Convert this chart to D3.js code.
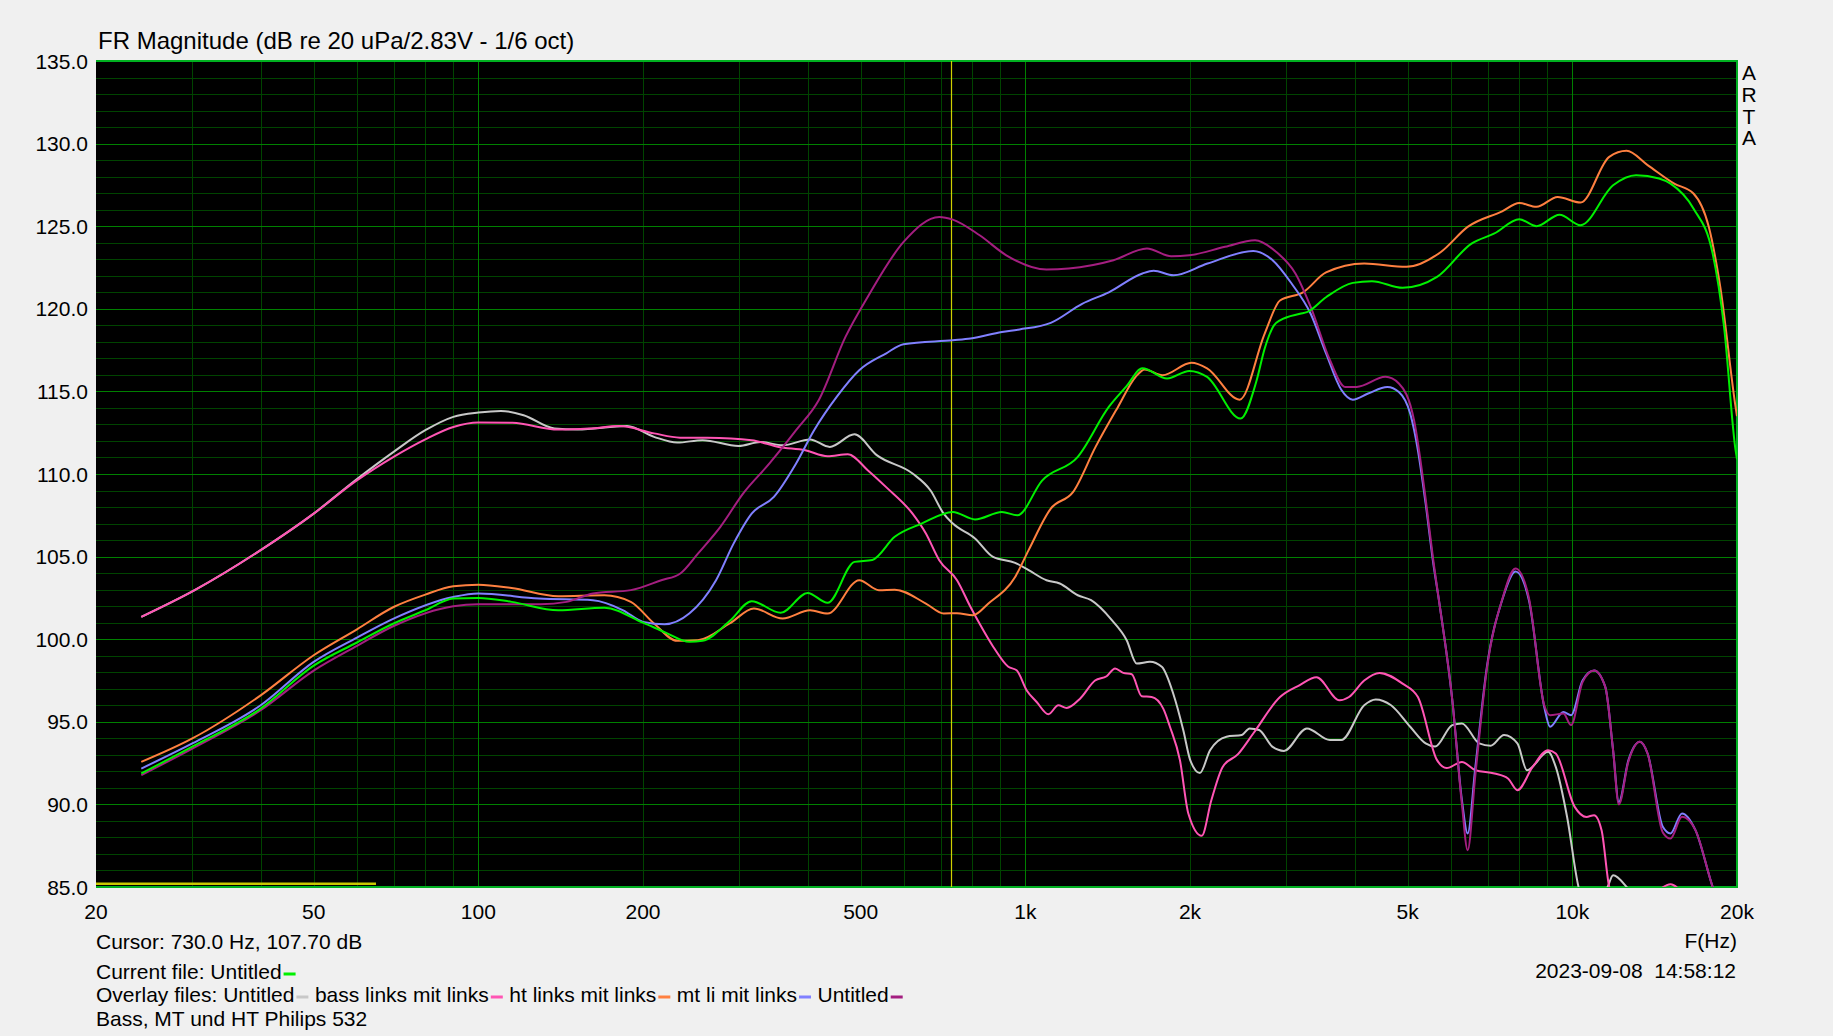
<!DOCTYPE html>
<html>
<head>
<meta charset="utf-8">
<script src="https://cdn.jsdelivr.net/npm/d3@7"></script>
<style>
  html, body { margin: 0; padding: 0; background: #f0f0f0; }
  svg { display: block; }
  text { font-family: "Liberation Sans", Arial, sans-serif; font-size: 21px; fill: #000; white-space: pre; }
  text.title { font-size: 24px; }
</style>
</head>
<body>
<script>
// ---------- data ----------
const titleText = "FR Magnitude (dB re 20 uPa/2.83V - 1/6 oct)";
const yTickValues = [85, 90, 95, 100, 105, 110, 115, 120, 125, 130, 135];
const xTickValues = [20, 50, 100, 200, 500, 1000, 2000, 5000, 10000, 20000];
const xTickLabels = ["20", "50", "100", "200", "500", "1k", "2k", "5k", "10k", "20k"];
const cursorFreq = 730;
const bandRange = [20, 65];
const bandLevel = 85.2;

// [frequency Hz, dB]
const currentUntitled = [
  [24.2,91.87],[30,93.5],[40,95.8],[50,98.4],[60,99.8],[70,100.95],[80,101.75],[90,102.46],[100,102.5],
  [115,102.26],[140,101.75],[170,101.9],[200,101.0],[220,100.4],[243,99.84],[257,99.9],[288,101.1],
  [316,102.3],[357,101.6],[400,102.8],[435,102.2],[487,104.68],[525,104.8],[577,106.2],[646,107.0],
  [737,107.7],[809,107.25],[906,107.7],[967,107.5],[1073,109.6],[1247,111.04],[1421,114.06],[1530,115.3],
  [1637,116.4],[1816,115.78],[1994,116.24],[2149,115.88],[2475,113.36],[2644,115.6],[2739,117.6],
  [2848,119.0],[2921,119.3],[3178,119.7],[3271,119.8],[3546,120.7],[3969,121.57],[4302,121.67],
  [4894,121.27],[5658,121.93],[6541,123.95],[7205,124.56],[7998,125.42],[8601,125.0],[9476,125.7],
  [10350,125.06],[11871,127.48],[13077,128.09],[14405,127.89],[15118,127.58],[16650,126.07],
  [18052,123.35],[18940,118.9],[19880,111.44],[20000,110.9]
];
const overlayUntitledGray = [
  [24.2,101.35],[30.3,102.97],[40,105.39],[50,107.6],[59.6,109.62],[70,111.34],[80,112.65],[90,113.46],
  [100,113.72],[110,113.82],[121,113.56],[137.8,112.75],[151.8,112.69],[187,112.9],[209.5,112.25],
  [231,111.9],[257,112.05],[299,111.7],[328,111.94],[360,111.74],[404,112.09],[439,111.64],[487,112.4],
  [535,111.14],[622,110.03],[671,109.0],[709,107.6],[737,107.0],[809,106.1],[873,104.98],[958,104.62],
  [1014,104.18],[1093,103.57],[1156,103.37],[1247,102.66],[1319,102.36],[1438,101.17],[1532,99.94],
  [1598,98.53],[1690,98.63],[1776,98.33],[1864,96.7],[1944,94.5],[2002,92.68],[2085,91.9],[2176,93.28],
  [2332,94.1],[2488,94.2],[2570,94.6],[2675,94.5],[2832,93.48],[2971,93.24],[3271,94.6],[3604,93.9],
  [3781,93.9],[4164,96.0],[4371,96.35],[4662,96.0],[5053,94.7],[5393,93.69],[5612,93.5],[6034,94.8],
  [6283,94.9],[6757,93.69],[7088,93.55],[7502,94.2],[7935,93.69],[8262,92.07],[9029,93.18],[9326,92.27],
  [9782,89.24],[10265,85.0],[10800,83.5],[11600,85.0],[11871,85.71],[12566,85.0],[13200,84.0]
];
const bassLinks = [
  [24.2,101.35],[30.3,102.97],[40,105.39],[50,107.6],[59.6,109.55],[70,111.04],[80,112.1],[90,112.85],
  [100,113.12],[115.4,113.1],[140,112.69],[159.3,112.75],[181.3,112.9],[209.5,112.46],[233.7,112.2],
  [262,112.19],[316,112.05],[354,111.64],[396,111.44],[435,111.08],[473.7,111.2],[515,110.23],[556,109.22],
  [622,107.6],[658,106.4],[696,104.78],[750,103.57],[794,101.95],[826,100.9],[874,99.53],[931,98.33],
  [964,98.12],[1006,96.9],[1049,96.2],[1102,95.46],[1149,96.0],[1190,95.84],[1259,96.4],[1341,97.5],
  [1408,97.76],[1459,98.23],[1510,97.96],[1565,97.88],[1632,96.55],[1702,96.5],[1787,95.8],[1838,94.7],
  [1917,92.68],[1986,89.45],[2101,88.1],[2188,90.25],[2295,92.27],[2448,93.04],[2610,94.29],[2921,96.5],
  [3169,97.21],[3406,97.7],[3752,96.3],[3906,96.5],[4164,97.5],[4442,97.96],[4894,97.31],[5220,96.5],
  [5658,92.68],[5890,92.2],[6283,92.57],[6649,92.07],[7205,91.87],[7626,91.57],[7935,90.86],[8462,92.27],
  [9029,93.28],[9326,93.08],[10100,89.85],[10610,89.24],[10960,89.35],[11310,88.44],[11680,85.0],
  [12500,83.0],[14000,84.5],[15118,85.17],[16000,84.5]
];
const htLinks = [
  [24.2,92.57],[30,93.99],[40,96.6],[50,99.03],[60,100.6],[70,101.95],[80,102.7],[90,103.2],[100,103.3],
  [115,103.1],[140,102.6],[170,102.66],[190,102.26],[209.5,100.95],[231,99.9],[252,99.94],[288,100.95],
  [319,101.86],[360,101.25],[404,101.75],[435,101.55],[497,103.57],[540,102.97],[577,103.0],[658,102.16],
  [709,101.56],[750,101.57],[802,101.45],[856,102.16],[958,103.77],[1014,105.39],[1113,107.9],
  [1223,108.92],[1344,111.64],[1477,114.06],[1591,115.88],[1653,116.33],[1781,115.98],[2012,116.73],
  [2149,116.4],[2465,114.5],[2739,118.5],[2921,120.5],[3219,121.0],[3546,122.2],[4164,122.74],
  [4973,122.54],[5750,123.44],[6436,124.96],[7442,125.9],[7998,126.4],[8601,126.17],[9400,126.77],
  [10350,126.43],[11680,129.2],[12566,129.56],[13727,128.7],[15358,127.58],[16650,126.98],
  [17760,124.96],[18640,121.33],[19880,114.06],[20000,113.5]
];
const mtLinks = [
  [24.2,92.17],[30,93.69],[40,96.0],[50,98.63],[60,100.1],[70,101.25],[90,102.56],[100,102.77],
  [129,102.46],[162,102.36],[184,101.75],[200,101.05],[219,100.9],[243,101.55],[272,103.57],[293,105.8],
  [316,107.6],[347,108.62],[381,110.64],[411,112.65],[452,114.67],[497,116.28],[556,117.29],[599,117.86],
  [737,118.1],[794,118.2],[906,118.6],[976,118.75],[1113,119.15],[1270,120.3],[1421,121.0],[1637,122.14],
  [1716,122.3],[1866,122.03],[2153,122.74],[2610,123.5],[2832,122.94],[3067,121.53],[3324,119.7],
  [3546,117.3],[3781,115.1],[3969,114.5],[4233,114.87],[4590,115.27],[4818,114.97],[5053,113.66],
  [5220,111.44],[5393,108.2],[5568,104.6],[5703,102.36],[6034,96.3],[6283,90.25],[6436,88.24],
  [6649,92.27],[6979,98.32],[7442,102.36],[7873,104.1],[8330,102.36],[8885,95.9],[9105,94.7],[9630,95.6],
  [9946,95.4],[10440,97.5],[10960,98.1],[11490,97.1],[11871,93.28],[12160,90.15],[12664,92.68],
  [13290,93.79],[13727,93.08],[14635,88.64],[15118,88.24],[15866,89.45],[16790,88.44],[18052,85.0],
  [19000,83.0]
];
const lastUntitled = [
  [24.2,91.77],[30,93.38],[40,95.7],[50,98.1],[60,99.6],[70,100.8],[90,102.0],[100,102.12],[130,102.12],
  [145,102.26],[162,102.77],[190,102.97],[216,103.57],[234,103.98],[252,105.18],[277,106.8],[304.5,108.8],
  [340.6,110.64],[381,112.65],[419,114.47],[469,118.3],[515,120.72],[599,124.05],[696,125.56],[737,125.4],
  [825,124.45],[923,123.24],[1093,122.38],[1200,122.44],[1449,122.94],[1668,123.65],[1849,123.18],
  [1994,123.24],[2318,123.75],[2630,124.15],[2876,123.44],[3117,122.14],[3324,120.12],[3604,116.9],
  [3843,115.27],[4033,115.27],[4553,115.88],[4818,115.48],[5136,113.26],[5393,108.5],[5568,104.8],
  [5703,102.36],[6034,96.3],[6283,90.0],[6436,87.23],[6649,91.8],[6979,98.2],[7442,102.4],[7873,104.28],
  [8330,102.5],[8885,96.0],[9105,95.4],[9630,95.5],[9946,94.8],[10440,97.4],[10960,98.1],[11490,97.1],
  [11871,93.28],[12160,90.0],[12664,92.6],[13290,93.79],[13727,93.08],[14635,88.3],[15118,87.93],
  [15866,89.25],[16790,88.44],[18052,85.0],[19000,83.0]
];

const overlayNames = ["Untitled", "bass links mit links", "ht links mit links", "mt li mit links", "Untitled"];
const overlayColors = ["#c8c8c8", "#ff55b4", "#ff8040", "#8080ff", "#a41e80"];
const overlayData = [overlayUntitledGray, bassLinks, htLinks, mtLinks, lastUntitled];
const currentName = "Untitled";
const currentColor = "#00f000";

// ---------- layout ----------
const W = 1833, H = 1036;
const L = 96, R = 1737, T = 61, B = 887;

const svg = d3.select("body").append("svg").attr("width", W).attr("height", H);
svg.append("rect").attr("width", W).attr("height", H).attr("fill", "#f0f0f0");

const x = d3.scaleLog().domain([20, 20000]).range([L, R]);
const y = d3.scaleLinear().domain([85, 135]).range([B, T]);

svg.append("rect").attr("x", L).attr("y", T).attr("width", R - L).attr("height", B - T).attr("fill", "#000");

// grid
const vMinor = [];
[10, 100, 1000, 10000].forEach(dec => { for (let k = 1; k <= 9; k++) { const f = dec * k; if (f > 20 && f < 20000) vMinor.push(f); } });
const grid = svg.append("g").attr("shape-rendering", "crispEdges");
const hLines = d3.range(86, 135, 1);
grid.selectAll(".hmin").data(hLines.filter(v => v % 5 !== 0)).enter().append("line")
  .attr("x1", L).attr("x2", R).attr("y1", d => Math.round(y(d)) + 0.5).attr("y2", d => Math.round(y(d)) + 0.5)
  .attr("stroke", "#004400").attr("stroke-width", 1);
grid.selectAll(".vmin").data(vMinor.filter(f => ![100, 1000, 10000].includes(f))).enter().append("line")
  .attr("y1", T).attr("y2", B).attr("x1", d => Math.round(x(d)) + 0.5).attr("x2", d => Math.round(x(d)) + 0.5)
  .attr("stroke", "#004400").attr("stroke-width", 1);
grid.selectAll(".hmaj").data(hLines.filter(v => v % 5 === 0)).enter().append("line")
  .attr("x1", L).attr("x2", R).attr("y1", d => Math.round(y(d)) + 0.5).attr("y2", d => Math.round(y(d)) + 0.5)
  .attr("stroke", "#008000").attr("stroke-width", 1);
grid.selectAll(".vmaj").data([100, 1000, 10000]).enter().append("line")
  .attr("y1", T).attr("y2", B).attr("x1", d => Math.round(x(d)) + 0.5).attr("x2", d => Math.round(x(d)) + 0.5)
  .attr("stroke", "#008000").attr("stroke-width", 1);

// border (top, right, bottom)
svg.append("path").attr("d", `M${L},${T} H${R} V${B} H${L}`).attr("fill", "none")
  .attr("stroke", "#00b020").attr("stroke-width", 2);

// clip
svg.append("clipPath").attr("id", "plotclip").append("rect")
  .attr("x", L).attr("y", T).attr("width", R - L).attr("height", B - T);

// cursor line and band
svg.append("line").attr("x1", Math.round(x(cursorFreq)) + 0.5).attr("x2", Math.round(x(cursorFreq)) + 0.5)
  .attr("y1", T).attr("y2", B).attr("stroke", "#d0d000").attr("stroke-width", 1.2);
svg.append("line").attr("x1", x(bandRange[0])).attr("x2", x(bandRange[1]))
  .attr("y1", y(bandLevel)).attr("y2", y(bandLevel)).attr("stroke", "#c8c800").attr("stroke-width", 2.5);

// curves
const line = d3.line().x(d => x(d[0])).y(d => y(d[1])).curve(d3.curveMonotoneX);
const curves = svg.append("g").attr("clip-path", "url(#plotclip)");
overlayData.forEach((data, i) => {
  curves.append("path").datum(data).attr("d", line).attr("fill", "none")
    .attr("stroke", overlayColors[i]).attr("stroke-width", 2).attr("stroke-linejoin", "round");
});
curves.append("path").datum(currentUntitled).attr("d", line).attr("fill", "none")
  .attr("stroke", currentColor).attr("stroke-width", 2).attr("stroke-linejoin", "round");

// title
svg.append("text").attr("class", "title").attr("x", 98).attr("y", 49).text(titleText);

// y ticks
svg.selectAll(".ytl").data(yTickValues).enter().append("text")
  .attr("x", 88).attr("y", d => y(d) + 7.5).attr("text-anchor", "end").text(d => d.toFixed(1));

// x ticks
svg.selectAll(".xtl").data(xTickValues).enter().append("text")
  .attr("x", d => x(d)).attr("y", 919).attr("text-anchor", "middle").text((d, i) => xTickLabels[i]);

// ARTA
["A", "R", "T", "A"].forEach((c, i) => {
  svg.append("text").attr("x", 1749).attr("y", 80 + i * 21.8).attr("text-anchor", "middle").text(c);
});

// bottom texts
svg.append("text").attr("x", 96).attr("y", 949).text("Cursor: 730.0 Hz, 107.70 dB");
svg.append("text").attr("x", 1737).attr("y", 948).attr("text-anchor", "end").text("F(Hz)");
svg.append("text").attr("x", 1736).attr("y", 978).attr("text-anchor", "end").text("2023-09-08  14:58:12");
svg.append("text").attr("x", 96).attr("y", 1026).text("Bass, MT und HT Philips 532");

// legend
function legendItem(xPos, yBase, label, color) {
  const t = svg.append("text").attr("x", xPos).attr("y", yBase).text(label);
  const w = t.node().getComputedTextLength();
  svg.append("rect").attr("x", xPos + w + 2).attr("y", yBase - 6.5).attr("width", 12).attr("height", 3).attr("fill", color);
  return xPos + w + 2 + 12 + 6.5;
}
legendItem(96, 979, "Current file: " + currentName, currentColor);
let lx = 96;
overlayNames.forEach((n, i) => {
  lx = legendItem(lx, 1002, (i === 0 ? "Overlay files: " : "") + n, overlayColors[i]);
});
</script>
</body>
</html>
